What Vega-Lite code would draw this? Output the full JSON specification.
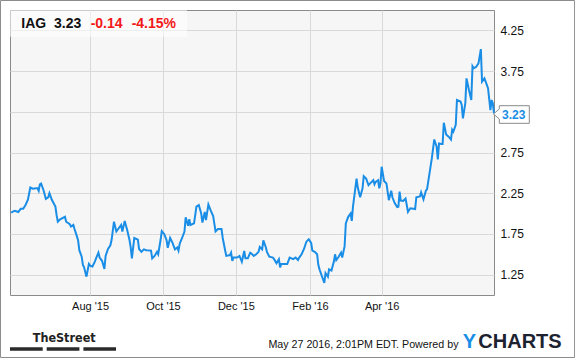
{
  "$schema": "https://vega.github.io/schema/vega-lite/v6.json",
  "width": 484,
  "height": 285,
  "autosize": {"type": "none"},
  "padding": {"left": 10, "top": 10, "right": 81, "bottom": 63},
  "background": "white",
  "config": {
    "font": "Liberation Sans",
    "view": {"stroke": "#8a8a8a", "fill": "#f6f6f6"}
  },
  "datasets": {
    "price": [
      {"d": "2015-05-27", "p": 2.01}, {"d": "2015-05-28", "p": 2.02}, {"d": "2015-05-30", "p": 2.035},
      {"d": "2015-06-02", "p": 2.02}, {"d": "2015-06-04", "p": 2.06}, {"d": "2015-06-06", "p": 2.06},
      {"d": "2015-06-08", "p": 2.105}, {"d": "2015-06-10", "p": 2.17}, {"d": "2015-06-12", "p": 2.32},
      {"d": "2015-06-14", "p": 2.305}, {"d": "2015-06-17", "p": 2.31}, {"d": "2015-06-18", "p": 2.31},
      {"d": "2015-06-19", "p": 2.28}, {"d": "2015-06-20", "p": 2.36}, {"d": "2015-06-21", "p": 2.37},
      {"d": "2015-06-23", "p": 2.29}, {"d": "2015-06-25", "p": 2.18}, {"d": "2015-06-27", "p": 2.2},
      {"d": "2015-06-28", "p": 2.25}, {"d": "2015-06-30", "p": 2.17}, {"d": "2015-07-03", "p": 2.085},
      {"d": "2015-07-04", "p": 1.98}, {"d": "2015-07-05", "p": 1.9}, {"d": "2015-07-07", "p": 1.93},
      {"d": "2015-07-11", "p": 1.96}, {"d": "2015-07-12", "p": 1.9}, {"d": "2015-07-15", "p": 1.87},
      {"d": "2015-07-16", "p": 1.84}, {"d": "2015-07-18", "p": 1.86}, {"d": "2015-07-19", "p": 1.81},
      {"d": "2015-07-21", "p": 1.72}, {"d": "2015-07-22", "p": 1.67}, {"d": "2015-07-23", "p": 1.55},
      {"d": "2015-07-25", "p": 1.47}, {"d": "2015-07-26", "p": 1.37}, {"d": "2015-07-27", "p": 1.34},
      {"d": "2015-07-29", "p": 1.225}, {"d": "2015-07-31", "p": 1.38}, {"d": "2015-08-01", "p": 1.36},
      {"d": "2015-08-03", "p": 1.35}, {"d": "2015-08-05", "p": 1.41}, {"d": "2015-08-06", "p": 1.45},
      {"d": "2015-08-08", "p": 1.52}, {"d": "2015-08-09", "p": 1.46}, {"d": "2015-08-11", "p": 1.42},
      {"d": "2015-08-13", "p": 1.32}, {"d": "2015-08-14", "p": 1.48}, {"d": "2015-08-16", "p": 1.565},
      {"d": "2015-08-18", "p": 1.61}, {"d": "2015-08-19", "p": 1.675}, {"d": "2015-08-21", "p": 1.9},
      {"d": "2015-08-23", "p": 1.78}, {"d": "2015-08-25", "p": 1.82}, {"d": "2015-08-27", "p": 1.86},
      {"d": "2015-08-28", "p": 1.78}, {"d": "2015-08-30", "p": 1.91}, {"d": "2015-09-01", "p": 1.8},
      {"d": "2015-09-03", "p": 1.675}, {"d": "2015-09-04", "p": 1.585}, {"d": "2015-09-05", "p": 1.45},
      {"d": "2015-09-07", "p": 1.7}, {"d": "2015-09-10", "p": 1.68}, {"d": "2015-09-11", "p": 1.565},
      {"d": "2015-09-13", "p": 1.53}, {"d": "2015-09-15", "p": 1.56}, {"d": "2015-09-17", "p": 1.55},
      {"d": "2015-09-21", "p": 1.545}, {"d": "2015-09-22", "p": 1.45}, {"d": "2015-09-24", "p": 1.48},
      {"d": "2015-09-26", "p": 1.53}, {"d": "2015-09-27", "p": 1.5}, {"d": "2015-09-29", "p": 1.675},
      {"d": "2015-09-30", "p": 1.785}, {"d": "2015-10-02", "p": 1.75}, {"d": "2015-10-04", "p": 1.675},
      {"d": "2015-10-05", "p": 1.58}, {"d": "2015-10-07", "p": 1.7}, {"d": "2015-10-09", "p": 1.64},
      {"d": "2015-10-11", "p": 1.56}, {"d": "2015-10-13", "p": 1.585}, {"d": "2015-10-14", "p": 1.545},
      {"d": "2015-10-15", "p": 1.63}, {"d": "2015-10-17", "p": 1.7}, {"d": "2015-10-19", "p": 1.78},
      {"d": "2015-10-20", "p": 1.955}, {"d": "2015-10-22", "p": 1.85}, {"d": "2015-10-23", "p": 1.93},
      {"d": "2015-10-24", "p": 1.86}, {"d": "2015-10-27", "p": 1.88}, {"d": "2015-10-29", "p": 2.085},
      {"d": "2015-10-31", "p": 2.105}, {"d": "2015-11-02", "p": 2.0}, {"d": "2015-11-03", "p": 1.89},
      {"d": "2015-11-05", "p": 2.02}, {"d": "2015-11-06", "p": 1.92}, {"d": "2015-11-08", "p": 2.11},
      {"d": "2015-11-10", "p": 2.035}, {"d": "2015-11-12", "p": 1.97}, {"d": "2015-11-14", "p": 1.78},
      {"d": "2015-11-16", "p": 1.81}, {"d": "2015-11-19", "p": 1.81}, {"d": "2015-11-20", "p": 1.7},
      {"d": "2015-11-22", "p": 1.55}, {"d": "2015-11-23", "p": 1.48}, {"d": "2015-11-26", "p": 1.49},
      {"d": "2015-11-27", "p": 1.52}, {"d": "2015-11-28", "p": 1.42}, {"d": "2015-11-29", "p": 1.46},
      {"d": "2015-12-02", "p": 1.46}, {"d": "2015-12-04", "p": 1.48}, {"d": "2015-12-06", "p": 1.41},
      {"d": "2015-12-08", "p": 1.54}, {"d": "2015-12-09", "p": 1.45}, {"d": "2015-12-11", "p": 1.45},
      {"d": "2015-12-13", "p": 1.52}, {"d": "2015-12-14", "p": 1.51}, {"d": "2015-12-16", "p": 1.48},
      {"d": "2015-12-18", "p": 1.5}, {"d": "2015-12-20", "p": 1.53}, {"d": "2015-12-21", "p": 1.59},
      {"d": "2015-12-23", "p": 1.56}, {"d": "2015-12-24", "p": 1.67}, {"d": "2015-12-26", "p": 1.59},
      {"d": "2015-12-27", "p": 1.53}, {"d": "2015-12-29", "p": 1.47}, {"d": "2016-01-01", "p": 1.46},
      {"d": "2016-01-02", "p": 1.44}, {"d": "2016-01-04", "p": 1.39}, {"d": "2016-01-06", "p": 1.44},
      {"d": "2016-01-07", "p": 1.34}, {"d": "2016-01-08", "p": 1.38}, {"d": "2016-01-13", "p": 1.38},
      {"d": "2016-01-15", "p": 1.46}, {"d": "2016-01-18", "p": 1.44}, {"d": "2016-01-20", "p": 1.46},
      {"d": "2016-01-22", "p": 1.43}, {"d": "2016-01-23", "p": 1.46}, {"d": "2016-01-25", "p": 1.5},
      {"d": "2016-01-27", "p": 1.565}, {"d": "2016-01-29", "p": 1.655}, {"d": "2016-01-31", "p": 1.685},
      {"d": "2016-02-02", "p": 1.64}, {"d": "2016-02-03", "p": 1.545}, {"d": "2016-02-05", "p": 1.53},
      {"d": "2016-02-07", "p": 1.5}, {"d": "2016-02-08", "p": 1.37}, {"d": "2016-02-09", "p": 1.315},
      {"d": "2016-02-11", "p": 1.23}, {"d": "2016-02-13", "p": 1.15}, {"d": "2016-02-14", "p": 1.27},
      {"d": "2016-02-16", "p": 1.225}, {"d": "2016-02-17", "p": 1.315}, {"d": "2016-02-19", "p": 1.3},
      {"d": "2016-02-21", "p": 1.41}, {"d": "2016-02-22", "p": 1.5}, {"d": "2016-02-23", "p": 1.43},
      {"d": "2016-02-25", "p": 1.47}, {"d": "2016-02-27", "p": 1.52}, {"d": "2016-02-28", "p": 1.46},
      {"d": "2016-03-01", "p": 1.6}, {"d": "2016-03-02", "p": 1.88}, {"d": "2016-03-04", "p": 1.96},
      {"d": "2016-03-06", "p": 2.0}, {"d": "2016-03-07", "p": 1.91}, {"d": "2016-03-08", "p": 2.085},
      {"d": "2016-03-11", "p": 2.43}, {"d": "2016-03-12", "p": 2.32}, {"d": "2016-03-14", "p": 2.2},
      {"d": "2016-03-16", "p": 2.31}, {"d": "2016-03-17", "p": 2.46}, {"d": "2016-03-19", "p": 2.43},
      {"d": "2016-03-21", "p": 2.35}, {"d": "2016-03-23", "p": 2.38}, {"d": "2016-03-25", "p": 2.41},
      {"d": "2016-03-26", "p": 2.36}, {"d": "2016-03-27", "p": 2.39}, {"d": "2016-03-29", "p": 2.41},
      {"d": "2016-03-30", "p": 2.31}, {"d": "2016-03-31", "p": 2.37}, {"d": "2016-04-01", "p": 2.575},
      {"d": "2016-04-03", "p": 2.4}, {"d": "2016-04-05", "p": 2.37}, {"d": "2016-04-07", "p": 2.165},
      {"d": "2016-04-09", "p": 2.28}, {"d": "2016-04-10", "p": 2.2}, {"d": "2016-04-12", "p": 2.125},
      {"d": "2016-04-14", "p": 2.08}, {"d": "2016-04-15", "p": 2.085}, {"d": "2016-04-16", "p": 2.27},
      {"d": "2016-04-17", "p": 2.16}, {"d": "2016-04-19", "p": 2.155}, {"d": "2016-04-21", "p": 2.185},
      {"d": "2016-04-22", "p": 2.105}, {"d": "2016-04-23", "p": 2.02}, {"d": "2016-04-25", "p": 2.065},
      {"d": "2016-04-29", "p": 2.055}, {"d": "2016-04-30", "p": 2.2}, {"d": "2016-05-03", "p": 2.21},
      {"d": "2016-05-04", "p": 2.26}, {"d": "2016-05-06", "p": 2.175}, {"d": "2016-05-08", "p": 2.28},
      {"d": "2016-05-09", "p": 2.3}, {"d": "2016-05-11", "p": 2.49}, {"d": "2016-05-13", "p": 2.68},
      {"d": "2016-05-15", "p": 2.91}, {"d": "2016-05-17", "p": 2.82}, {"d": "2016-05-18", "p": 2.665},
      {"d": "2016-05-19", "p": 2.86}, {"d": "2016-05-21", "p": 2.855}, {"d": "2016-05-22", "p": 2.855},
      {"d": "2016-05-23", "p": 3.115}, {"d": "2016-05-25", "p": 2.97}, {"d": "2016-05-27", "p": 2.945},
      {"d": "2016-05-29", "p": 2.91}, {"d": "2016-05-30", "p": 3.03}, {"d": "2016-05-31", "p": 3.005},
      {"d": "2016-06-02", "p": 3.09}, {"d": "2016-06-03", "p": 3.395}, {"d": "2016-06-06", "p": 3.375},
      {"d": "2016-06-07", "p": 3.335}, {"d": "2016-06-08", "p": 3.17}, {"d": "2016-06-10", "p": 3.355},
      {"d": "2016-06-11", "p": 3.66}, {"d": "2016-06-13", "p": 3.52}, {"d": "2016-06-15", "p": 3.395},
      {"d": "2016-06-16", "p": 3.81}, {"d": "2016-06-17", "p": 3.785}, {"d": "2016-06-19", "p": 3.8},
      {"d": "2016-06-21", "p": 3.845}, {"d": "2016-06-23", "p": 4.02}, {"d": "2016-06-24", "p": 3.62},
      {"d": "2016-06-26", "p": 3.66}, {"d": "2016-06-28", "p": 3.58}, {"d": "2016-06-29", "p": 3.54},
      {"d": "2016-07-01", "p": 3.27}, {"d": "2016-07-02", "p": 3.395}, {"d": "2016-07-03", "p": 3.355},
      {"d": "2016-07-04", "p": 3.23}
    ]
  },
  "layer": [
    {
      "data": {"name": "price"},
      "mark": {"type": "line", "color": "#1a8ee6", "strokeWidth": 2},
      "encoding": {
        "x": {
          "field": "d", "type": "temporal",
          "scale": {"type": "utc", "domain": [{"year": 2015, "month": 5, "date": 26, "utc": true}, {"year": 2016, "month": 7, "date": 4, "utc": true}]},
          "axis": {
            "title": null, "orient": "bottom",
            "values": [
              {"year": 2015, "month": 8, "date": 1, "utc": true},
              {"year": 2015, "month": 10, "date": 1, "utc": true},
              {"year": 2015, "month": 12, "date": 1, "utc": true},
              {"year": 2016, "month": 2, "date": 1, "utc": true},
              {"year": 2016, "month": 4, "date": 1, "utc": true}
            ],
            "format": "%b '%y",
            "grid": true, "gridColor": "#d9d9d9", "gridWidth": 1,
            "domain": false, "ticks": false,
            "labelPadding": 5, "labelFontSize": 11, "labelColor": "#111111", "labelFont": "Liberation Sans"
          }
        },
        "y": {
          "field": "p", "type": "quantitative",
          "scale": {"domain": [1, 4.5], "nice": false, "zero": false},
          "axis": {
            "title": null, "orient": "right",
            "values": [1.25, 1.75, 2.25, 2.75, 3.25, 3.75, 4.25],
            "labelExpr": "datum.value == 3.25 ? '' : format(datum.value, '.2f')",
            "grid": true, "gridColor": "#d9d9d9", "gridWidth": 1,
            "domain": false, "ticks": false,
            "labelPadding": 6, "labelFontSize": 12, "labelColor": "#111111", "labelFont": "Liberation Sans", "labelAlign": "left"
          }
        }
      }
    },
    {
      "data": {"values": [{}]},
      "mark": {"type": "rect", "fill": null, "stroke": "#8c8c8c", "strokeWidth": 1},
      "encoding": {
        "x": {"datum": {"year": 2015, "month": 5, "date": 18, "hours": 1, "utc": true}, "type": "temporal"},
        "x2": {"datum": {"year": 2016, "month": 9, "date": 9, "hours": 10, "utc": true}},
        "y": {"datum": 4.6166, "type": "quantitative"},
        "y2": {"datum": 0.2325}
      }
    },
    {
      "data": {"values": [{}]},
      "mark": {"type": "rect", "fill": "white", "opacity": 0.55},
      "encoding": {
        "x": {"datum": {"year": 2015, "month": 5, "date": 26, "utc": true}, "type": "temporal"},
        "x2": {"datum": {"year": 2015, "month": 10, "date": 21, "hours": 3, "utc": true}},
        "y": {"datum": 4.5, "type": "quantitative"},
        "y2": {"datum": 4.172}
      }
    },
    {
      "data": {"values": [{}]},
      "mark": {"type": "point", "shape": "M -0.5 0.6 L 5.3 -4.4 L 5.3 -7.7 L 35.3 -7.7 L 35.3 9.9 L 5.3 9.9 L 5.3 5.6 Z", "size": 4, "filled": true, "fill": "white", "stroke": "#8a8a8a", "strokeWidth": 1, "opacity": 1},
      "encoding": {
        "x": {"datum": {"year": 2016, "month": 7, "date": 4, "utc": true}, "type": "temporal"},
        "y": {"datum": 3.23, "type": "quantitative"}
      }
    },
    {
      "data": {"values": [{}]},
      "mark": {"type": "text", "text": "3.23", "align": "left", "baseline": "alphabetic", "dx": 8, "dy": 5.5, "fontSize": 12, "fontWeight": "bold", "color": "#1a8ee6", "font": "Liberation Sans"},
      "encoding": {
        "x": {"datum": {"year": 2016, "month": 7, "date": 4, "utc": true}, "type": "temporal"},
        "y": {"datum": 3.23, "type": "quantitative"}
      }
    },
    {
      "data": {"values": [{}]},
      "mark": {"type": "text", "text": "IAG", "align": "left", "baseline": "alphabetic", "fontSize": 14, "fontWeight": "bold", "color": "#111111", "font": "Liberation Sans"},
      "encoding": {
        "x": {"datum": {"year": 2015, "month": 6, "date": 4, "hours": 11, "utc": true}, "type": "temporal"},
        "y": {"datum": 4.275, "type": "quantitative"}
      }
    },
    {
      "data": {"values": [{}]},
      "mark": {"type": "text", "text": "3.23", "align": "left", "baseline": "alphabetic", "fontSize": 14, "fontWeight": "bold", "color": "#111111", "font": "Liberation Sans"},
      "encoding": {
        "x": {"datum": {"year": 2015, "month": 7, "date": 1, "hours": 19, "utc": true}, "type": "temporal"},
        "y": {"datum": 4.275, "type": "quantitative"}
      }
    },
    {
      "data": {"values": [{}]},
      "mark": {"type": "text", "text": "-0.14", "align": "left", "baseline": "alphabetic", "fontSize": 14, "fontWeight": "bold", "color": "#f21818", "font": "Liberation Sans"},
      "encoding": {
        "x": {"datum": {"year": 2015, "month": 8, "date": 1, "hours": 12, "utc": true}, "type": "temporal"},
        "y": {"datum": 4.275, "type": "quantitative"}
      }
    },
    {
      "data": {"values": [{}]},
      "mark": {"type": "text", "text": "-4.15%", "align": "left", "baseline": "alphabetic", "fontSize": 14, "fontWeight": "bold", "color": "#f21818", "font": "Liberation Sans"},
      "encoding": {
        "x": {"datum": {"year": 2015, "month": 9, "date": 4, "hours": 19, "utc": true}, "type": "temporal"},
        "y": {"datum": 4.275, "type": "quantitative"}
      }
    },
    {
      "data": {"values": [{}]},
      "mark": {"type": "text", "text": "May 27 2016, 2:01PM EDT.  Powered by", "align": "left", "baseline": "alphabetic", "fontSize": 10.7, "color": "#111111", "font": "Liberation Sans"},
      "encoding": {
        "x": {"datum": {"year": 2015, "month": 12, "date": 28, "hours": 5, "utc": true}, "type": "temporal"},
        "y": {"datum": 0.3455, "type": "quantitative"}
      }
    },
    {
      "data": {"values": [{}]},
      "mark": {"type": "text", "text": "Y", "align": "left", "baseline": "alphabetic", "fontSize": 20, "fontWeight": "bold", "color": "#1a8ee6", "font": "Liberation Sans"},
      "encoding": {
        "x": {"datum": {"year": 2016, "month": 6, "date": 7, "hours": 19, "utc": true}, "type": "temporal"},
        "y": {"datum": 0.3455, "type": "quantitative"}
      }
    },
    {
      "data": {"values": [{}]},
      "mark": {"type": "text", "text": "CHARTS", "align": "left", "baseline": "alphabetic", "fontSize": 20, "fontWeight": "bold", "color": "#1c2230", "font": "Liberation Sans"},
      "encoding": {
        "x": {"datum": {"year": 2016, "month": 6, "date": 20, "hours": 21, "utc": true}, "type": "temporal"},
        "y": {"datum": 0.3455, "type": "quantitative"}
      }
    },
    {
      "data": {"values": [{}]},
      "mark": {"type": "text", "text": "TheStreet", "align": "left", "baseline": "alphabetic", "fontSize": 12.5, "fontWeight": "bold", "color": "#222222", "font": "DejaVu Sans Condensed"},
      "encoding": {
        "x": {"datum": {"year": 2015, "month": 6, "date": 14, "hours": 0, "utc": true}, "type": "temporal"},
        "y": {"datum": 0.4265, "type": "quantitative"}
      }
    },
    {
      "data": {"values": [{}]},
      "mark": {"type": "rule", "color": "#2a2a2a", "strokeWidth": 3.5, "strokeDash": [32.7, 4]},
      "encoding": {
        "x": {"datum": {"year": 2015, "month": 5, "date": 26, "utc": true}, "type": "temporal"},
        "x2": {"datum": {"year": 2015, "month": 8, "date": 22, "hours": 17, "utc": true}},
        "y": {"datum": 0.337, "type": "quantitative"}
      }
    }
  ]
}
